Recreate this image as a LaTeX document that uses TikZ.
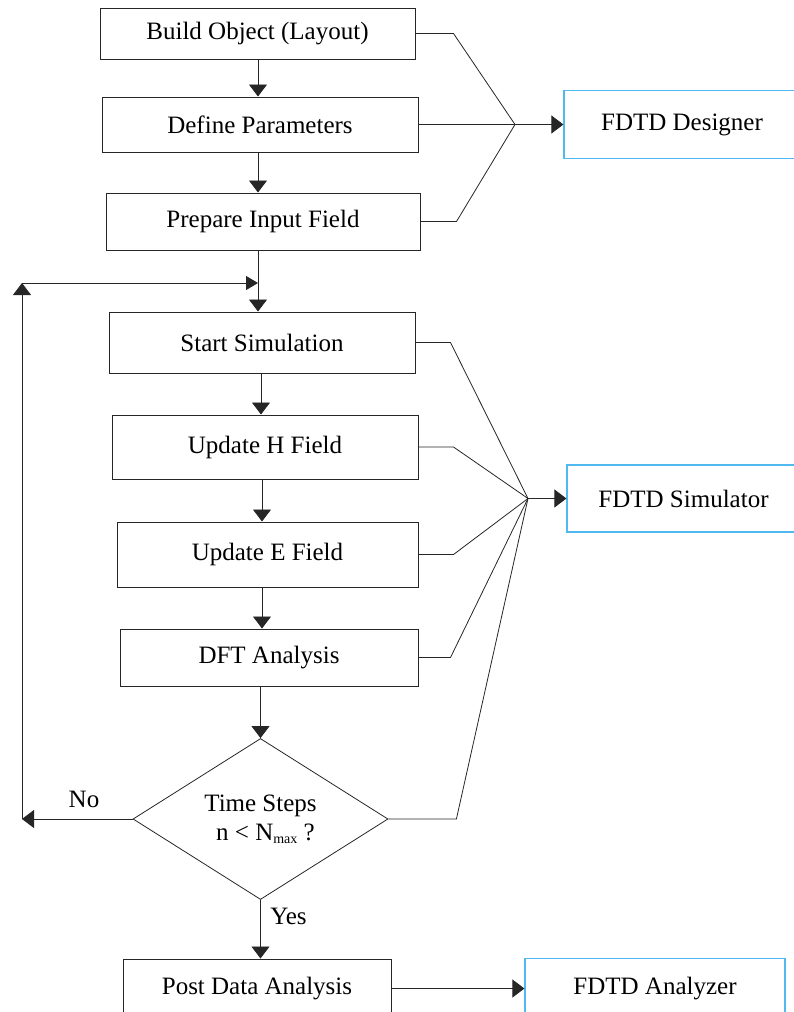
\documentclass[tikz,border=0pt]{standalone}
\usepackage{fontspec}
\setmainfont{Liberation Serif}
\usetikzlibrary{shapes.geometric,arrows.meta}
\definecolor{boxblue}{RGB}{80,185,240}
\begin{document}
\begin{tikzpicture}[x=1pt,y=-1pt,
  every node/.style={font=\fontsize{25}{29}\selectfont},
  box/.style={draw=black!85,line width=1pt,inner sep=0pt},
  tool/.style={draw=boxblue,line width=1.2pt,inner sep=0pt},
  link/.style={draw=black!85,line width=0.8pt},
  arr/.style={link,-{Triangle[length=12pt,width=18pt]}},
  sarr/.style={link,-{Triangle[length=12pt,width=14pt]}},
]
\useasboundingbox (0,0) rectangle (794,1012);
\clip (0,0) rectangle (794,1012);

% main column
\node[box,minimum width=315pt,minimum height=51pt] (b1) at (257.5,33.5) {Build Object (Layout)};
\node[box,minimum width=316pt,minimum height=55pt] (b2) at (260,124.5) {Define Parameters};
\node[box,minimum width=314pt,minimum height=57pt] (b3) at (263,221.5) {Prepare Input Field};
\node[box,minimum width=306pt,minimum height=61pt] (b4) at (262,342.5) {Start Simulation};
\node[box,minimum width=306pt,minimum height=64pt] (b5) at (265,447) {Update H Field};
\node[box,minimum width=301pt,minimum height=65pt] (b6) at (267.5,554.5) {Update E Field};
\node[box,minimum width=298pt,minimum height=57pt] (b7) at (269,657.5) {DFT Analysis};
\node[draw=black!85,line width=0.8pt,diamond,minimum width=255pt,minimum height=152pt,inner sep=0pt,align=center] (dia) at (260.5,819)
  {Time Steps\\\hspace{10pt}n < N\raisebox{-3pt}{\fontsize{14}{14}\selectfont max} ?};
\node[box,minimum width=268pt,minimum height=59pt] (b8) at (257,988.5) {Post Data Analysis};

% tools
\node[tool,minimum width=236pt,minimum height=68pt] (d1) at (682,124.5) {FDTD Designer};
\node[tool,minimum width=233pt,minimum height=67pt] (d2) at (683.5,498.5) {FDTD Simulator};
\node[tool,minimum width=260pt,minimum height=60pt] (d3) at (655,988.5) {FDTD Analyzer};

% vertical flow
\coordinate (c1) at (258,0);
\coordinate (c2) at (261,0);
\coordinate (c3) at (262,0);
\draw[arr] (b1.south -| c1) -- (b2.north -| c1);
\draw[arr] (b2.south -| c1) -- (b3.north -| c1);
\draw[arr] (b3.south -| c1) -- (b4.north -| c1);
\draw[arr] (b4.south -| c2) -- (b5.north -| c2);
\draw[arr] (b5.south -| c3) -- (b6.north -| c3);
\draw[arr] (b6.south -| c3) -- (b7.north -| c3);
\draw[arr] (b7.south -| dia.north) -- (dia.north);
\draw[arr] (dia.south) -- (b8.north -| dia.south);

% loop back
\coordinate (L1) at (22,819);
\coordinate (L2) at (22,283);
\coordinate (T) at (258,283);
\draw[arr] (dia.west) -- (L1);
\draw[arr] (L1) -- (L2);
\draw[sarr] (L2) -- (T);

\node (no) at (84,799) {No};
\node (yes) at (288.5,916) {Yes};

% fan to designer
\coordinate (J1) at (515,124.5);
\draw[link] (b1.east) -- ++(38,0) -- (J1);
\draw[link] (b2.east) -- (J1);
\draw[link] (b3.east) -- ++(36,0) -- (J1);
\draw[arr] (J1) -- (J1 -| d1.west);

% fan to simulator
\coordinate (J2) at (528,498.5);
\draw[link] (b4.east) -- ++(35,0) -- (J2);
\draw[link] (b5.east) -- ++(35,0) -- (J2);
\draw[link] (b6.east) -- ++(35,0) -- (J2);
\draw[link] (b7.east) -- ++(32,0) -- (J2);
\draw[link] (dia.east) -- ++(68,0) -- (J2);
\draw[arr] (J2) -- (J2 -| d2.west);

% analyzer
\draw[arr] (b8.east) -- (b8.east -| d3.west);
\end{tikzpicture}
\end{document}
